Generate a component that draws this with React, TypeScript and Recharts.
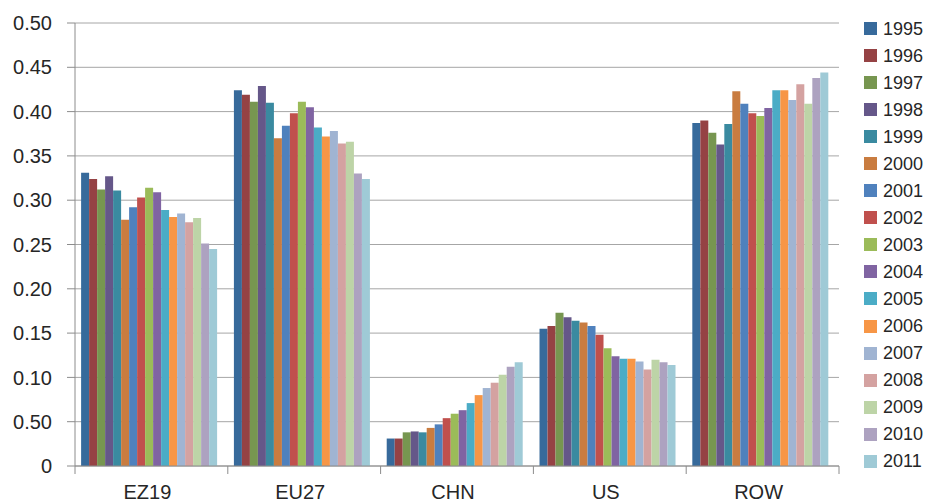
import { BarChart, Bar, XAxis, YAxis, CartesianGrid, Legend } from 'recharts';

const regions = ['EZ19', 'EU27', 'CHN', 'US', 'ROW'];
const years = ['1995', '1996', '1997', '1998', '1999', '2000', '2001', '2002', '2003', '2004', '2005', '2006', '2007', '2008', '2009', '2010', '2011'];

// values per region, 1995..2011
const ez19 = [0.331, 0.324, 0.312, 0.327, 0.311, 0.278, 0.292, 0.303, 0.314, 0.309, 0.289, 0.281, 0.285, 0.275, 0.280, 0.251, 0.245];
const eu27 = [0.424, 0.419, 0.411, 0.429, 0.410, 0.370, 0.384, 0.398, 0.411, 0.405, 0.382, 0.372, 0.378, 0.364, 0.366, 0.330, 0.324];
const chn = [0.031, 0.031, 0.038, 0.039, 0.038, 0.043, 0.047, 0.054, 0.059, 0.063, 0.071, 0.080, 0.088, 0.094, 0.103, 0.112, 0.117];
const us = [0.155, 0.158, 0.173, 0.168, 0.164, 0.162, 0.158, 0.148, 0.133, 0.124, 0.121, 0.121, 0.118, 0.109, 0.120, 0.117, 0.114];
const row = [0.387, 0.390, 0.376, 0.363, 0.386, 0.423, 0.409, 0.398, 0.395, 0.404, 0.424, 0.424, 0.413, 0.431, 0.409, 0.438, 0.444];

const yTicks = [0, 0.05, 0.1, 0.15, 0.2, 0.25, 0.3, 0.35, 0.4, 0.45, 0.5];
// labels as printed in the source (the 0.05 tick reads "0.50")
const yTickLabels = ['0', '0.50', '0.10', '0.15', '0.20', '0.25', '0.30', '0.35', '0.40', '0.45', '0.50'];

const colors = [
  '#376a9b', '#954244', '#779650', '#655789', '#3a8aa0', '#c97c40',
  '#4f81bd', '#c0504d', '#9bbb59', '#8064a2', '#4bacc6', '#f79646',
  '#a0b4d2', '#d4a2a1', '#bdd4a7', '#ada2c0', '#9fcad6'
];

const seriesByRegion = [ez19, eu27, chn, us, row];
const data = regions.map((r, i) => {
  const d: Record<string, string | number> = { region: r };
  years.forEach((y, j) => { d[y] = seriesByRegion[i][j]; });
  return d;
});

const font = '"Liberation Sans", Arial, sans-serif';

function CategoryTick(props: any) {
  const { x, y, payload, index } = props;
  const half = payload.offset ?? 0;
  return (
    <g>
      <line x1={x - half} x2={x - half} y1={y} y2={y + 8} stroke="#8c8c8c" />
      {index === regions.length - 1 && (
        <line x1={x + half} x2={x + half} y1={y} y2={y + 8} stroke="#8c8c8c" />
      )}
      <text x={x - 4} y={y + 33} textAnchor="middle" fontSize={20} fill="#262626" fontFamily={font}>
        {payload.value}
      </text>
    </g>
  );
}

function YearLegend() {
  return (
    <div style={{ width: 89, fontFamily: font, fontSize: 18, color: '#262626' }}>
      {years.map((y, i) => (
        <div key={y} style={{ height: 27.05, display: 'flex', alignItems: 'center', paddingLeft: 25 }}>
          <span style={{ width: 13, height: 13, background: colors[i], display: 'inline-block' }} />
          <span style={{ marginLeft: 6, lineHeight: '18px' }}>{y}</span>
        </div>
      ))}
    </div>
  );
}

export default function App() {
  return (
    <div style={{ width: 928, height: 503, background: '#fff' }}>
      <style>{'body{margin:0}'}</style>
      <BarChart
        width={928}
        height={503}
        data={data}
        margin={{ top: 23, right: 0, bottom: 0, left: 0 }}
        barCategoryGap="4%"
        barGap={0}
      >
        <CartesianGrid vertical={false} stroke="#a6a6a6" />
        <XAxis
          dataKey="region"
          height={37}
          tickSize={0}
          tickMargin={0}
          axisLine={{ stroke: '#8c8c8c' }}
          tickLine={false}
          tick={<CategoryTick />}
          interval={0}
        />
        <YAxis
          width={75}
          domain={[0, 0.5]}
          ticks={yTicks}
          tickFormatter={(_v: number, i: number) => yTickLabels[i]}
          tickSize={8}
          tickMargin={15}
          axisLine={{ stroke: '#8c8c8c' }}
          tickLine={{ stroke: '#8c8c8c' }}
          tick={{ fontSize: 20, fill: '#262626', fontFamily: font }}
          interval={0}
        />
        <Legend
          layout="vertical"
          align="right"
          verticalAlign="top"
          content={<YearLegend />}
          wrapperStyle={{ top: 15, right: 0, width: 89 }}
        />
        {years.map((y, i) => (
          <Bar key={y} dataKey={y} fill={colors[i]} isAnimationActive={false} />
        ))}
      </BarChart>
    </div>
  );
}
